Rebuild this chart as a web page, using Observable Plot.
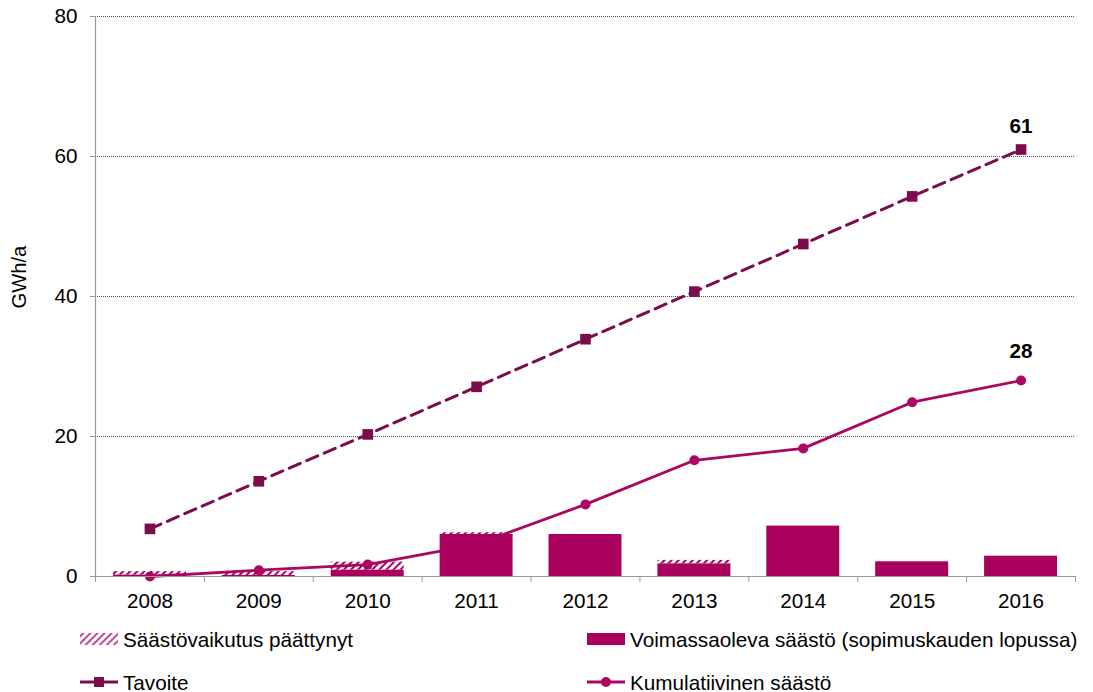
<!DOCTYPE html>
<html><head><meta charset="utf-8">
<script src="https://cdn.jsdelivr.net/npm/d3@7"></script>
<script src="https://cdn.jsdelivr.net/npm/@observablehq/plot@0.6"></script>
<style>
body{margin:0;background:#fff;font-family:"Liberation Sans",Arial,sans-serif;}
#legend{position:relative;width:1093px;height:77px;font-size:20.7px;color:#000;}
.item{position:absolute;display:flex;align-items:center;height:24px;white-space:nowrap;}
.item span{line-height:24px;}
.item svg{display:block;margin-right:3px;}
</style></head><body>
<div id="chart"></div>
<div id="legend"></div>
<script>
const years = [2008, 2009, 2010, 2011, 2012, 2013, 2014, 2015, 2016];
const voimassaoleva = [0.2, 0.15, 0.9, 6.0, 6.0, 1.8, 7.2, 2.1, 2.9];
const paattynyt = [0.5, 0.55, 1.15, 0.25, 0, 0.5, 0, 0, 0];
const tavoite = [6.8, 13.6, 20.3, 27.1, 33.9, 40.7, 47.5, 54.3, 61.0];
const kumulatiivinen = [0, 0.9, 1.7, 4.6, 10.3, 16.6, 18.3, 24.9, 28.0];
const yTicks = [0, 20, 40, 60, 80];
const seriesNames = ["Säästövaikutus päättynyt", "Voimassaoleva säästö (sopimuskauden lopussa)", "Tavoite", "Kumulatiivinen säästö"];
const yLabel = "GWh/a";

const barColor = "#A8005C";
const lineColor = "#AC0762";
const targetColor = "#7C0C4E";
const halfBar = 0.335;
const fs = 20.7;

const rows = years.map((year, i) => ({
  year, voim: voimassaoleva[i], paat: paattynyt[i], tav: tavoite[i], kum: kumulatiivinen[i]
}));
const boundaries = [...years.map(y => y - 0.5), years[years.length - 1] + 0.5];

const plot = Plot.plot({
  width: 1093, height: 615,
  marginLeft: 95, marginRight: 18, marginTop: 16, marginBottom: 39,
  style: {fontFamily: "'Liberation Sans', Arial, sans-serif", fontSize: fs + "px", color: "#000", background: "#fff"},
  x: {type: "linear", domain: [years[0] - 0.5, years[years.length - 1] + 0.5]},
  y: {domain: [0, 80]},
  marks: [
    Plot.ruleY(yTicks.filter(v => v > 0), {stroke: "#555", strokeDasharray: "1,1", strokeWidth: 1}),
    Plot.line(rows, {x: "year", y: "kum", stroke: lineColor, strokeWidth: 2.8}),
    Plot.dot(rows, {x: "year", y: "kum", r: 5, fill: lineColor, stroke: "none"}),
    Plot.line(rows, {x: "year", y: "tav", stroke: targetColor, strokeWidth: 3, strokeDasharray: "12,7"}),
    Plot.dot(rows, {x: "year", y: "tav", symbol: "square", r: 6, fill: targetColor, stroke: "none"}),
    Plot.rectY(rows.filter(d => d.voim > 0), {x1: d => d.year - halfBar, x2: d => d.year + halfBar, y1: 0, y2: "voim", fill: barColor}),
    Plot.rectY(rows.filter(d => d.paat > 0), {x1: d => d.year - halfBar, x2: d => d.year + halfBar, y1: "voim", y2: d => d.voim + d.paat, fill: "url(#hatch)"}),
    Plot.ruleY([0], {stroke: "#999", strokeWidth: 1.2}),
    Plot.ruleX([years[0] - 0.5], {stroke: "#999", strokeWidth: 1.2}),
    Plot.axisY({ticks: yTicks, tickSize: 5, tickPadding: 13, stroke: "#999", label: null, fontSize: fs}),
    Plot.axisX({ticks: boundaries, tickSize: 6, tickFormat: () => "", stroke: "#999", label: null}),
    Plot.axisX({ticks: years, tickSize: 0, tickPadding: 17, tickFormat: d => String(d), label: null, fontSize: fs}),
    Plot.text([yLabel], {frameAnchor: "left", rotate: -90, dx: -76, dy: 12, fontSize: 20.2, fill: "#000"}),
    Plot.text(rows.slice(-1), {x: "year", y: "tav", text: d => String(Math.round(d.tav)), dy: -23, fontWeight: "bold", fontSize: fs, fill: "#000"}),
    Plot.text(rows.slice(-1), {x: "year", y: "kum", text: d => String(Math.round(d.kum)), dy: -29, fontWeight: "bold", fontSize: fs, fill: "#000"})
  ]
});

const defs = d3.select(plot).insert("defs", ":first-child");
const pat = defs.append("pattern").attr("id", "hatch").attr("patternUnits", "userSpaceOnUse")
  .attr("width", 5).attr("height", 5).attr("patternTransform", "rotate(45)");
pat.append("rect").attr("x", 0).attr("y", 0).attr("width", 2).attr("height", 5).attr("fill", barColor);
document.getElementById("chart").appendChild(plot);

// Legend
const legend = document.getElementById("legend");
const swatches = [
  `<svg width="40" height="24"><defs><pattern id="hatchL" patternUnits="userSpaceOnUse" width="5" height="5" patternTransform="rotate(45)"><rect width="2" height="5" fill="${barColor}" opacity="0.7"/></pattern></defs><rect x="0" y="5" width="38" height="12" fill="url(#hatchL)"/></svg>`,
  `<svg width="40" height="24"><rect x="0" y="5" width="38" height="12" fill="${barColor}"/></svg>`,
  `<svg width="40" height="24"><line x1="0" x2="38" y1="11" y2="11" stroke="${targetColor}" stroke-width="3"/><rect x="14" y="6" width="10" height="10" fill="${targetColor}"/></svg>`,
  `<svg width="40" height="24"><line x1="0" x2="38" y1="11" y2="11" stroke="${lineColor}" stroke-width="2.8"/><circle cx="19" cy="11" r="5" fill="${lineColor}"/></svg>`
];
const pos = [[80, 12.8], [587, 12.8], [80, 55.8], [587, 55.8]];
seriesNames.forEach((name, i) => {
  const div = document.createElement("div");
  div.className = "item";
  div.style.left = pos[i][0] + "px";
  div.style.top = pos[i][1] + "px";
  div.innerHTML = swatches[i] + `<span>${name}</span>`;
  legend.appendChild(div);
});
</script>
</body></html>
